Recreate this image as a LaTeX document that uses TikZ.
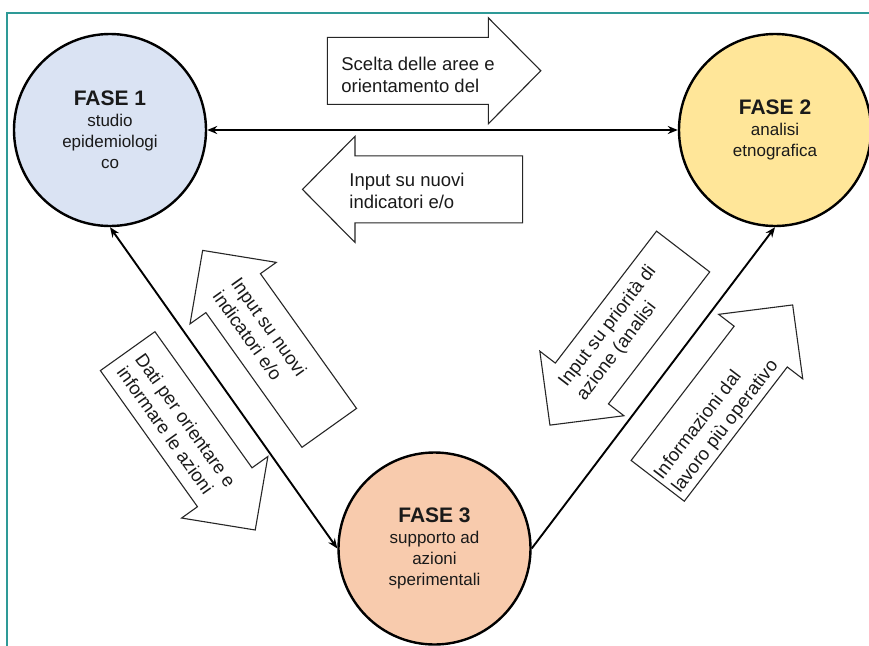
\documentclass[tikz,border=0pt]{standalone}
\usepackage{fontspec}
\setmainfont{Liberation Sans}
\usetikzlibrary{arrows.meta}

\definecolor{frameteal}{HTML}{2E9A97}
\definecolor{phaseblue}{HTML}{DAE3F3}
\definecolor{phasegold}{HTML}{FFE699}
\definecolor{phasepeach}{HTML}{F8CBAD}
\definecolor{inkgray}{HTML}{1A1A1A}

\tikzset{
  frameline/.style={draw=frameteal, line width=2pt},
  phase/.style={circle, draw=black, line width=2.4pt, minimum size=192pt,
    inner sep=0pt, align=center, text=inkgray,
    font=\fontsize{17}{21}\selectfont},
  link/.style={draw=black, line width=1.9pt},
  outline/.style={draw=black!85, line width=1.1pt, fill=white},
  note/.style={align=left, inner sep=0pt, text=inkgray,
    font=\fontsize{18.5}{22.5}\selectfont},
  % block arrow pointing along local +x, origin at the centre of its body;
  % the argument is the body length
  pics/blockarrow/.style={code={
    \draw[outline] (-#1/2,-33.5) -- (#1/2,-33.5) -- (#1/2,-53)
      -- (#1/2+52.5,0) -- (#1/2,53) -- (#1/2,33.5) -- (-#1/2,33.5) -- cycle;
  }},
}

\begin{document}
\begin{tikzpicture}[x=1pt, y=-1pt, >={Stealth[length=10pt,width=8pt]}]
\useasboundingbox (0,0) rectangle (869,645);

% frame
\draw[frameline] (871,13.3) -- (6.7,13.3) -- (6.7,647);

% phases
\node[phase, fill=phaseblue] (f1) at (110,130)
  {{\fontsize{21}{24}\selectfont\bfseries FASE 1}\\studio\\epidemiologi\\co};
\node[phase, fill=phasegold] (f2) at (775,130)
  {{\fontsize{21}{24}\selectfont\bfseries FASE 2}\\analisi\\etnografica};
\node[phase, fill=phasepeach] (f3) at (434.5,548.5)
  {{\fontsize{21}{24}\selectfont\bfseries FASE 3}\\supporto ad\\azioni\\sperimentali};

% block arrows with their labels
\pic at (407.8,70.8) {blockarrow=161};
\node[note] (nA) at (418,75) {Scelta delle aree e\\orientamento del};

\pic[rotate=180] at (438.8,189.4) {blockarrow=167.7};
\node[note] (nB) at (407,191) {Input su nuovi\\indicatori e/o};

\pic[rotate=125.5] at (281.2,360.5) {blockarrow=165.5};
\node[note, rotate=-54.5] (nC) at (260,333.3) {Input su nuovi\\indicatori e/o};

\pic[rotate=-54.5] at (176.2,419.2) {blockarrow=167.2};
\node[note, rotate=-54.5] (nD) at (176.7,426.7) {Dati per orientare e\\informare le azioni};

\pic[rotate=232.5] at (632.5,317.5) {blockarrow=166.3};
\node[note, rotate=52.5] (nE) at (616.7,333.3) {Input su priorità di\\azione (analisi};

\pic[rotate=52.5] at (709.2,413.7) {blockarrow=169.2};
\node[note, rotate=52.5] (nF) at (716.7,420) {Informazioni dal\\lavoro più operativo};

% connectors between phases
\draw[link, <->] (f1) -- (f2);
\draw[link, <->] (f1.south) -- (f3.west);
\draw[link, ->] (f3.east) -- (f2.south);
\end{tikzpicture}
\end{document}
